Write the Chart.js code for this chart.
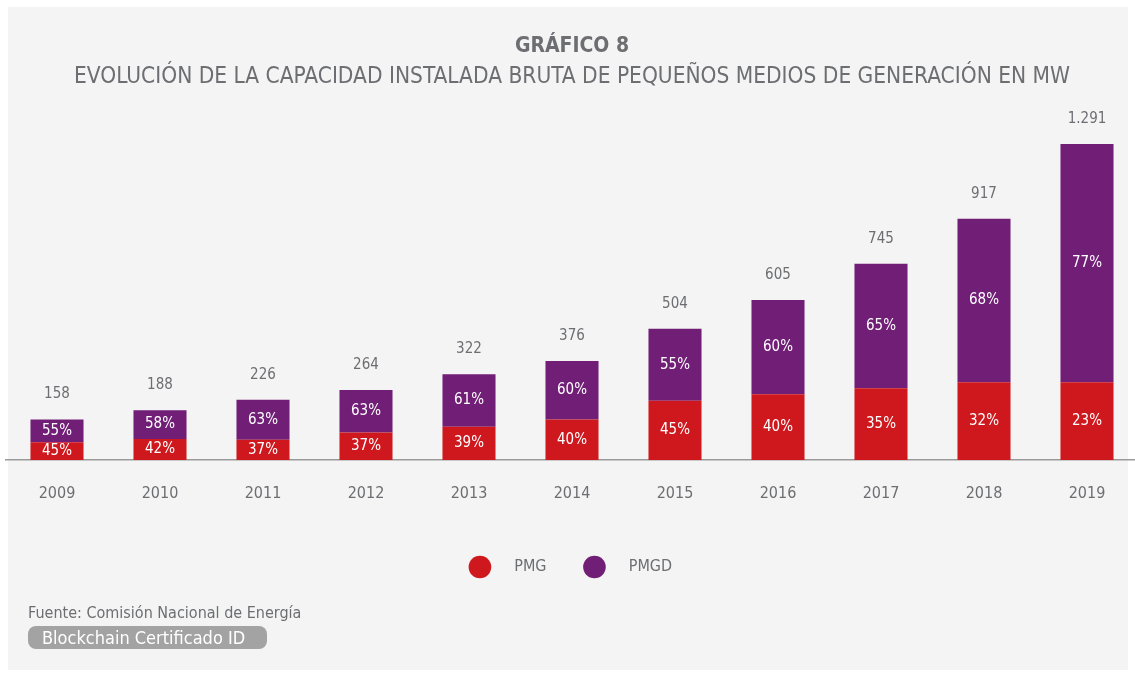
<!DOCTYPE html>
<html>
<head>
<meta charset="utf-8">
<script src="https://cdn.jsdelivr.net/npm/chart.js@4.4.0/dist/chart.umd.min.js"></script>
<style>
  body { margin: 0; background: #fff; overflow: hidden; width: 1135px; height: 677px; position: relative; }
  #panel { position: absolute; left: 8px; top: 7px; width: 1120px; height: 663px; background: #f4f4f4; }
  #wrap { position: absolute; left: 0; top: 0; width: 1145px; height: 620px; }
  #fuente { position: absolute; left: 28px; top: 603px; font: 16px 'DejaVu Sans Condensed', sans-serif; color: #6d6e71; white-space: nowrap; }
  #badge { position: absolute; left: 28px; top: 626px; width: 239px; height: 23px; border-radius: 8px; background: #a3a3a3; white-space: nowrap;
           color: #fff; font: 18px 'DejaVu Sans Condensed', sans-serif; line-height: 23px; padding-left: 14px; box-sizing: border-box; }
</style>
</head>
<body>
<div id="panel"></div>
<div id="wrap"><canvas id="myChart" width="1145" height="620"></canvas></div>
<div id="fuente">Fuente: Comisión Nacional de Energía</div>
<div id="badge">Blockchain Certificado ID</div>
<script>
const years = ["2009", "2010", "2011", "2012", "2013", "2014", "2015", "2016", "2017", "2018", "2019"];
// bar segment heights in MW
const pmg = [67, 80, 77, 104, 126, 154, 225, 249, 272, 295, 295];
const pmgd = [87, 109, 151, 161, 199, 221, 273, 358, 472, 620, 903];
// printed labels
const totals = ["158", "188", "226", "264", "322", "376", "504", "605", "745", "917", "1.291"];
const pmgPct = [45, 42, 37, 37, 39, 40, 45, 40, 35, 32, 23];
const pmgdPct = [55, 58, 63, 63, 61, 60, 55, 60, 65, 68, 77];

const red = "#cf181e";
const purple = "#701e76";
const grey = "#6d6e71";
const font = "'DejaVu Sans Condensed', sans-serif";

Chart.defaults.font.family = font;
Chart.defaults.color = grey;

const barLabels = {
  id: "barLabels",
  afterDatasetsDraw(chart) {
    const ctx = chart.ctx;
    ctx.save();
    ctx.textAlign = "center";
    ctx.textBaseline = "middle";
    ctx.font = "15px " + font;
    const pcts = [pmgPct, pmgdPct];
    chart.data.datasets.forEach((ds, d) => {
      chart.getDatasetMeta(d).data.forEach((bar, i) => {
        ctx.fillStyle = "#fff";
        ctx.fillText(pcts[d][i] + "%", bar.x, (bar.y + bar.base) / 2);
        if (d === 1) {
          ctx.fillStyle = grey;
          ctx.fillText(totals[i], bar.x, bar.y - 25);
        }
      });
    });
    ctx.restore();
  }
};

function initChart() {
  const ctx = document.getElementById("myChart");

  new Chart(ctx, {
    type: "bar",
    data: {
      labels: years,
      datasets: [
        { label: "PMG", data: pmg, backgroundColor: red },
        { label: "PMGD", data: pmgd, backgroundColor: purple }
      ]
    },
    options: {
      responsive: false,
      animation: false,
      datasets: { bar: { barPercentage: 0.515, categoryPercentage: 1 } },
      layout: { padding: { top: 33.6, left: 5.5, right: 6.5, bottom: 35 } },
      scales: {
        x: {
          stacked: true,
          grid: { display: false },
          border: { display: true, color: "#9a9a9a", width: 1.5 },
          ticks: { color: grey, font: { size: 16 }, padding: 16 },
          afterFit(scale) { scale.height = 59; }
        },
        y: {
          stacked: true,
          display: false,
          min: 0,
          max: 1252
        }
      },
      plugins: {
        title: {
          display: true,
          text: "GRÁFICO 8",
          color: grey,
          font: { size: 21, weight: "bold" },
          padding: { top: 0, bottom: 5 }
        },
        subtitle: {
          display: true,
          text: "EVOLUCIÓN DE LA CAPACIDAD INSTALADA BRUTA DE PEQUEÑOS MEDIOS DE GENERACIÓN EN MW",
          color: grey,
          font: { size: 22.5 },
          padding: { top: 0, bottom: 39 }
        },
        legend: {
          position: "bottom",
          labels: {
            usePointStyle: true,
            pointStyle: "circle",
            boxWidth: 16,
            boxHeight: 16,
            padding: 40,
            color: grey,
            font: { size: 16 },
            generateLabels(chart) {
              return Chart.defaults.plugins.legend.labels.generateLabels(chart)
                .map(l => Object.assign(l, { text: "    " + l.text }));
            }
          }
        },
        tooltip: { enabled: false }
      }
    },
    plugins: [barLabels]
  });
}

window.onload = () => {
  initChart();
};
</script>
</body>
</html>
